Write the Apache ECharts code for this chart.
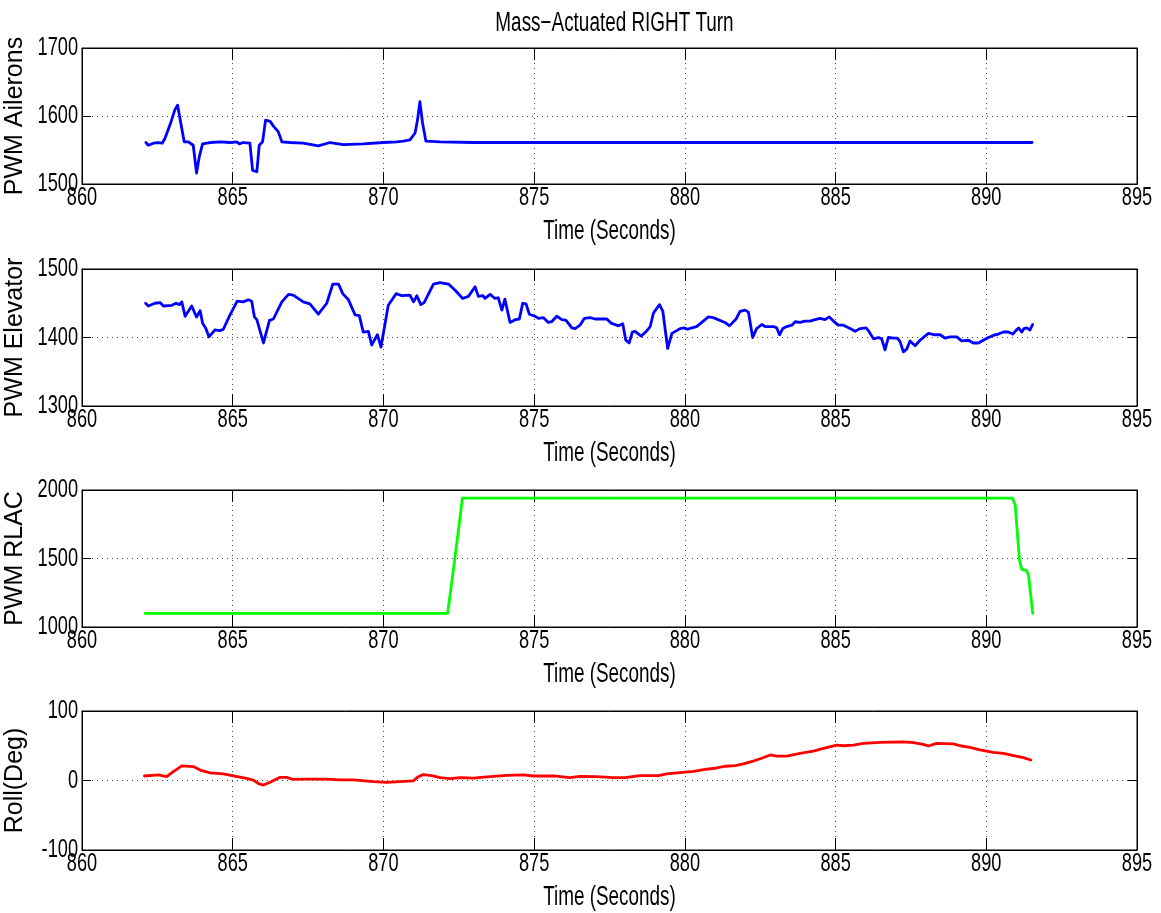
<!DOCTYPE html>
<html>
<head>
<meta charset="utf-8">
<title>Mass−Actuated RIGHT Turn</title>
<script src="https://cdn.jsdelivr.net/npm/echarts@6/dist/echarts.min.js"></script>
<style>
  html, body { margin: 0; padding: 0; background: #ffffff; }
  #chart { width: 1161px; height: 913px; }
</style>
</head>
<body>
<div id="chart"></div>
<script>
// ---- Flight log: mass-actuated right turn ----

// Time axis (seconds): min, max, step
const timeRange = [860, 895, 5];

// Aileron PWM command
const aileronTime = [862.12, 862.2, 862.37, 862.53, 862.66, 862.75, 862.92, 863.08, 863.17, 863.23,
  863.39, 863.53, 863.69, 863.8, 863.89, 864.0, 864.25, 864.6, 864.9, 865.13,
  865.22, 865.35, 865.57, 865.66, 865.8, 865.88, 865.99, 866.09, 866.24, 866.37,
  866.51, 866.63, 866.9, 867.34, 867.84, 868.23, 868.67, 869.33, 870.0, 870.44,
  870.66, 870.88, 871.05, 871.13, 871.21, 871.3, 871.41, 871.88, 873.0, 875.0,
  877.5, 880.0, 882.5, 885.0, 887.5, 890.0, 891.52];
const aileronPwm = [1561, 1557, 1560, 1561, 1560, 1567, 1587, 1609, 1616, 1617,
  1562, 1562, 1557, 1516, 1540, 1559, 1561, 1562, 1561, 1562,
  1559, 1561, 1560, 1520, 1518, 1557, 1562, 1594, 1592, 1584,
  1577, 1562, 1561, 1560, 1556, 1561, 1558, 1559, 1561, 1562,
  1563, 1565, 1575, 1594, 1621, 1589, 1563, 1562, 1561, 1561,
  1561, 1561, 1561, 1561, 1561, 1561, 1561];
const aileronRange = [1500, 1700, 100];

// Elevator PWM command
const elevatorTime = [862.11, 862.2, 862.42, 862.59, 862.70, 862.98, 863.12, 863.23, 863.31, 863.42,
  863.64, 863.69, 863.80, 863.92, 864.0, 864.11, 864.21, 864.41, 864.58, 864.69,
  864.91, 865.15, 865.35, 865.52, 865.63, 865.72, 865.80, 866.02, 866.22, 866.35,
  866.63, 866.85, 867.01, 867.34, 867.56, 867.84, 868.12, 868.32, 868.51, 868.65,
  868.84, 869.06, 869.20, 869.33, 869.50, 869.61, 869.80, 869.92, 870.16, 870.42,
  870.61, 870.88, 871.0, 871.11, 871.24, 871.35, 871.66, 871.88, 872.16, 872.38,
  872.63, 872.82, 873.04, 873.15, 873.30, 873.37, 873.54, 873.70, 873.81, 873.93,
  874.03, 874.20, 874.37, 874.51, 874.62, 874.73, 874.84, 875.03, 875.14, 875.31,
  875.47, 875.58, 875.75, 875.92, 876.06, 876.25, 876.36, 876.52, 876.67, 876.85,
  877.02, 877.41, 877.55, 877.80, 877.94, 878.04, 878.15, 878.26, 878.35, 878.55,
  878.70, 878.85, 878.96, 879.16, 879.27, 879.43, 879.57, 879.73, 879.84, 879.97,
  880.08, 880.23, 880.39, 880.56, 880.78, 880.94, 881.33, 881.48, 881.70, 881.83,
  882.0, 882.11, 882.25, 882.38, 882.55, 882.66, 882.94, 883.05, 883.14, 883.25,
  883.38, 883.55, 883.66, 883.82, 883.99, 884.15, 884.32, 884.49, 884.65, 884.79,
  884.93, 885.09, 885.26, 885.48, 885.65, 885.81, 886.01, 886.09, 886.26, 886.42,
  886.53, 886.64, 886.75, 886.92, 887.05, 887.14, 887.25, 887.36, 887.47, 887.64,
  887.80, 888.08, 888.30, 888.47, 888.63, 888.80, 889.02, 889.18, 889.41, 889.57,
  889.74, 889.90, 890.07, 890.23, 890.40, 890.57, 890.73, 890.88, 890.96, 891.07,
  891.18, 891.25, 891.34, 891.45, 891.54];
const elevatorPwm = [1450, 1446, 1450, 1451, 1446, 1447, 1450, 1448, 1452, 1431,
  1446, 1445, 1430, 1439, 1421, 1413, 1401, 1411, 1410, 1412,
  1433, 1453, 1452, 1455, 1453, 1430, 1426, 1392, 1425, 1427,
  1452, 1463, 1462, 1452, 1449, 1434, 1450, 1478, 1478, 1464,
  1455, 1433, 1432, 1408, 1409, 1389, 1404, 1386, 1447, 1464,
  1461, 1462, 1452, 1461, 1448, 1451, 1478, 1480, 1478, 1469,
  1457, 1460, 1474, 1460, 1461, 1457, 1463, 1457, 1458, 1440,
  1456, 1422, 1426, 1427, 1450, 1449, 1434, 1431, 1428, 1429,
  1422, 1423, 1431, 1426, 1425, 1414, 1413, 1418, 1428, 1429,
  1427, 1427, 1421, 1417, 1420, 1396, 1392, 1408, 1409, 1402,
  1408, 1416, 1436, 1448, 1438, 1384, 1406, 1410, 1413, 1414,
  1412, 1414, 1416, 1422, 1430, 1429, 1422, 1417, 1427, 1438,
  1440, 1437, 1400, 1413, 1419, 1416, 1416, 1414, 1404, 1413,
  1416, 1418, 1423, 1422, 1424, 1424, 1426, 1428, 1426, 1430,
  1424, 1418, 1418, 1413, 1409, 1413, 1414, 1410, 1398, 1400,
  1398, 1382, 1400, 1399, 1399, 1394, 1379, 1383, 1395, 1388,
  1396, 1406, 1404, 1404, 1399, 1401, 1401, 1395, 1396, 1392,
  1392, 1396, 1400, 1403, 1405, 1408, 1408, 1405, 1409, 1414,
  1408, 1413, 1414, 1411, 1419];
const elevatorRange = [1300, 1500, 100];

// Roll-lever actuator (RLAC) PWM command
const rlacTime = [862.1, 872.13, 872.32, 872.49, 872.62, 890.87, 890.96, 891.10, 891.18, 891.34, 891.40, 891.54];
const rlacPwm = [1100, 1100, 1416, 1708, 1940, 1940, 1890, 1489, 1421, 1411, 1380, 1100];
const rlacRange = [1000, 2000, 500];

// Roll angle (degrees)
const rollTime = [862.07, 862.53, 862.81, 863.03, 863.31, 863.69, 863.92, 864.25, 864.69, 865.02,
  865.46, 865.68, 865.88, 866.02, 866.24, 866.57, 866.79, 867.01, 867.45, 868.12,
  868.56, 869.0, 869.67, 870.11, 870.55, 870.99, 871.16, 871.32, 871.60, 871.88,
  872.21, 872.54, 872.99, 873.32, 874.09, 874.64, 874.98, 875.64, 876.19, 876.52,
  877.08, 877.63, 878.02, 878.51, 879.12, 879.40, 880.0, 880.29, 880.67, 881.06,
  881.33, 881.67, 881.94, 882.27, 882.55, 882.83, 883.05, 883.38, 883.82, 884.26,
  884.60, 885.04, 885.26, 885.59, 885.92, 886.48, 887.25, 887.58, 887.91, 888.08,
  888.35, 888.91, 889.13, 889.46, 889.79, 890.23, 890.57, 890.90, 891.23, 891.48];
const rollDeg = [6.5, 8, 5.5, 12.7, 21, 20, 15, 11, 9.4, 6.5,
  3, 0.5, -5, -6.5, -2.6, 4.6, 4.6, 1.5, 2, 2,
  1, 1, -1.7, -2.6, -1.7, -0.5, 5.5, 8.4, 7, 4,
  2.6, 4, 3.5, 5, 7.5, 8, 6.5, 6.5, 4, 6,
  5.5, 4, 4, 7, 7, 9.4, 12, 13, 16, 18,
  20.5, 21.5, 24, 28, 32, 36.7, 35, 35, 39, 42.4,
  46.3, 51, 50, 51, 53.5, 55, 55.5, 54.5, 52, 49.6,
  53.5, 52.8, 50, 47.8, 44, 40.6, 39, 35.7, 32.8, 29.5];
const rollRange = [-100, 100, 100];

// Panel labels and line colours
const panelNames = ['PWM Ailerons', 'PWM Elevator', 'PWM RLAC', 'Roll(Deg)'];
const panelColors = ['#0000ff', '#0000ff', '#00ff00', '#ff0000'];
const xAxisTitle = 'Time (Seconds)';
const chartTitle = 'Mass−Actuated RIGHT Turn';

// ---- Layout ----
const textFont = "'Liberation Sans', Arial, Helvetica, sans-serif";
const textCondense = 0.7;          // horizontal squeeze for upright text (narrow Helvetica look)
const plotLeft = 82;
const plotWidth = 1055;
const plotTops = [48, 269, 490, 711];
const plotHeights = [136, 137, 137, 139];

const panelSeries = [
  { t: aileronTime, v: aileronPwm, range: aileronRange },
  { t: elevatorTime, v: elevatorPwm, range: elevatorRange },
  { t: rlacTime, v: rlacPwm, range: rlacRange },
  { t: rollTime, v: rollDeg, range: rollRange }
];

const black = '#000000';
const gridDots = { color: '#4a4a4a', width: 1, type: [1, 4] };
const plainNumber = function (v) { return String(v); };

const grids = [], xAxes = [], yAxes = [], series = [];

panelSeries.forEach(function (p, i) {
  grids.push({
    left: plotLeft, width: plotWidth, top: plotTops[i], height: plotHeights[i],
    show: true, borderColor: black, borderWidth: 1, backgroundColor: '#ffffff',
    containLabel: false, outerBoundsMode: 'none'
  });

  // bottom time axis with labels and title
  xAxes.push({
    type: 'value', gridIndex: i, position: 'bottom',
    min: timeRange[0], max: timeRange[1], interval: timeRange[2],
    axisLine: { show: true, onZero: false, lineStyle: { color: black, width: 1 } },
    axisTick: { show: true, inside: true, length: 12, lineStyle: { color: black, width: 1 } },
    axisLabel: { show: true, color: black, fontFamily: textFont, fontSize: 26, margin: 1,
      formatter: plainNumber, showMinLabel: true, showMaxLabel: true, hideOverlap: false },
    splitLine: { show: true, lineStyle: gridDots },
    name: xAxisTitle, nameLocation: 'middle', nameGap: 34, nameMoveOverlap: false,
    nameTextStyle: { color: black, fontFamily: textFont, fontSize: 27 }
  });
  // top edge ticks
  xAxes.push({
    type: 'value', gridIndex: i, position: 'top',
    min: timeRange[0], max: timeRange[1], interval: timeRange[2],
    axisLine: { show: true, onZero: false, lineStyle: { color: black, width: 1 } },
    axisTick: { show: true, inside: true, length: 12, lineStyle: { color: black, width: 1 } },
    axisLabel: { show: false },
    splitLine: { show: false }
  });

  // left value axis with labels and name
  yAxes.push({
    type: 'value', gridIndex: i, position: 'left',
    min: p.range[0], max: p.range[1], interval: p.range[2],
    axisLine: { show: true, onZero: false, lineStyle: { color: black, width: 1 } },
    axisTick: { show: true, inside: true, length: 9, lineStyle: { color: black, width: 1 } },
    axisLabel: { show: true, color: black, fontFamily: textFont, fontSize: 26, margin: 4,
      formatter: plainNumber, showMinLabel: true, showMaxLabel: true },
    splitLine: { show: true, lineStyle: gridDots },
    name: panelNames[i], nameLocation: 'middle', nameGap: 54, nameRotate: 90,
    nameMoveOverlap: false,
    nameTextStyle: { color: black, fontFamily: textFont, fontSize: 25 }
  });
  // right edge ticks
  yAxes.push({
    type: 'value', gridIndex: i, position: 'right',
    min: p.range[0], max: p.range[1], interval: p.range[2],
    axisLine: { show: true, onZero: false, lineStyle: { color: black, width: 1 } },
    axisTick: { show: true, inside: true, length: 9, lineStyle: { color: black, width: 1 } },
    axisLabel: { show: false },
    splitLine: { show: false }
  });

  series.push({
    type: 'line',
    xAxisIndex: 2 * i, yAxisIndex: 2 * i,
    data: p.t.map(function (t, k) { return [t, p.v[k]]; }),
    showSymbol: false, symbol: 'none', smooth: false, clip: true,
    lineStyle: { color: panelColors[i], width: 2.8, join: 'round', cap: 'round' },
    itemStyle: { color: panelColors[i] },
    z: 3
  });
});

const chart = echarts.init(document.getElementById('chart'), null, { renderer: 'canvas' });

// Squeeze every upright text element horizontally about its anchor point,
// giving the tall, narrow lettering of the plot; rotated axis names keep their width.
function condenseUprightText(ec, factor) {
  const zr = ec.getZr();
  let changed = false;
  function walk(el) {
    const upright = !el.rotation || Math.abs(el.rotation) < 1e-6;
    if (el.type === 'text' && upright && el.scaleX !== factor) {
      el.scaleX = factor;
      el.markRedraw();
      changed = true;
    }
    if (el.isGroup) { el.eachChild(walk); }
  }
  zr.storage.getRoots().forEach(walk);
  if (changed) { zr.refreshImmediately(); }
}
chart.on('finished', function () { condenseUprightText(chart, textCondense); });
chart.on('rendered', function () { condenseUprightText(chart, textCondense); });

chart.setOption({
  animation: false,
  backgroundColor: '#ffffff',
  title: {
    text: chartTitle,
    left: plotLeft + plotWidth / 2, top: 5, textAlign: 'center',
    textStyle: { color: black, fontFamily: textFont, fontSize: 27, fontWeight: 'normal' }
  },
  grid: grids,
  xAxis: xAxes,
  yAxis: yAxes,
  series: series
});
condenseUprightText(chart, textCondense);
</script>
</body>
</html>
